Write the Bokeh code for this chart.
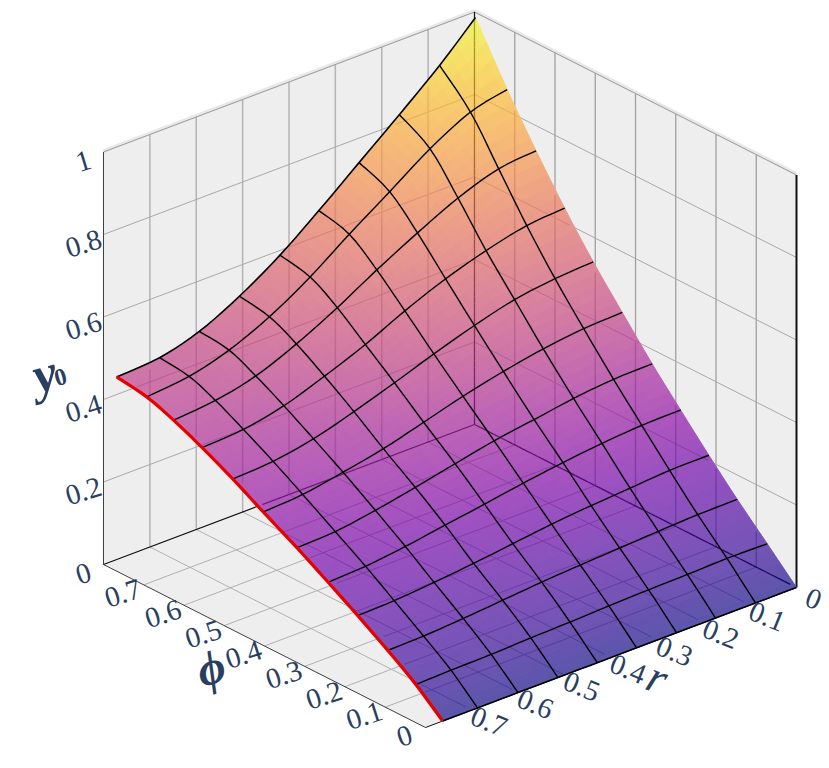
import numpy as np
from bokeh.plotting import figure
from bokeh.models import Range1d
from bokeh.core.properties import value
from bokeh.palettes import Plasma256
from bokeh.embed import file_html
from bokeh.resources import INLINE

# ---- tick labels ----
r_ticks = [0, 0.1, 0.2, 0.3, 0.4, 0.5, 0.6, 0.7]
phi_ticks = [0, 0.1, 0.2, 0.3, 0.4, 0.5, 0.6, 0.7]
y0_ticks = [0, 0.2, 0.4, 0.6, 0.8, 1]
r_tick_labels = ["0", "0.1", "0.2", "0.3", "0.4", "0.5", "0.6", "0.7"]
phi_tick_labels = ["0", "0.1", "0.2", "0.3", "0.4", "0.5", "0.6", "0.7"]
y0_tick_labels = ["0", "0.2", "0.4", "0.6", "0.8", "1"]

# ---- mesh-line positions, read at both ends of each line ----
r_at_phi_low = [0, 0.0884, 0.1746, 0.2586, 0.3448, 0.4295, 0.5144, 0.6006, 0.688, 0.763]
r_at_phi_high = [0, 0.077, 0.1632, 0.2495, 0.3357, 0.419, 0.506, 0.592, 0.677, 0.769]
phi_at_r_low = [0, 0.0728, 0.1473, 0.2178, 0.288, 0.3585, 0.433, 0.505, 0.576, 0.647, 0.719, 0.7975]
phi_at_r_high = [0, 0.066, 0.135, 0.2094, 0.282, 0.359, 0.442, 0.517, 0.5925, 0.663, 0.729, 0.803]

# ---- surface y0, one list per phi mesh line, from r = 0 to r = max ----
y0_phi00 = [0, 0, 0, 0, 0, 0, 0, 0, 0, 0]
y0_phi01 = [0.070, 0.072, 0.070, 0.069, 0.067, 0.064, 0.062, 0.059, 0.058, 0.056]
y0_phi02 = [0.141, 0.141, 0.138, 0.134, 0.130, 0.125, 0.118, 0.111, 0.106, 0.105]
y0_phi03 = [0.213, 0.213, 0.207, 0.201, 0.193, 0.182, 0.171, 0.162, 0.155, 0.153]
y0_phi04 = [0.288, 0.287, 0.280, 0.270, 0.257, 0.242, 0.228, 0.213, 0.202, 0.198]
y0_phi05 = [0.365, 0.363, 0.353, 0.338, 0.323, 0.303, 0.282, 0.263, 0.248, 0.244]
y0_phi06 = [0.453, 0.448, 0.435, 0.416, 0.392, 0.364, 0.336, 0.315, 0.297, 0.290]
y0_phi07 = [0.540, 0.533, 0.518, 0.491, 0.458, 0.423, 0.389, 0.359, 0.340, 0.333]
y0_phi08 = [0.635, 0.626, 0.601, 0.568, 0.526, 0.479, 0.438, 0.402, 0.380, 0.372]
y0_phi09 = [0.739, 0.728, 0.693, 0.644, 0.590, 0.533, 0.481, 0.439, 0.415, 0.404]
y0_phi10 = [0.852, 0.830, 0.777, 0.709, 0.642, 0.573, 0.513, 0.468, 0.440, 0.428]
y0_phi11 = [0.988, 0.904, 0.821, 0.741, 0.661, 0.588, 0.525, 0.476, 0.448, 0.440]

title_r, title_phi, title_y, title_y_sub = "r", "\u03d5", "y", "0"
R_MAX, PHI_MAX, Y0_MAX = 0.8, 0.8, 1.0

Z = np.array([y0_phi00, y0_phi01, y0_phi02, y0_phi03, y0_phi04, y0_phi05,
              y0_phi06, y0_phi07, y0_phi08, y0_phi09, y0_phi10, y0_phi11])
NJ, NI = Z.shape


def project(r, phi, z):
    """Orthographic view of the 3-D box, in page pixels."""
    r, phi, z = np.asarray(r, float), np.asarray(phi, float), np.asarray(z, float)
    return 796 - 463.75 * r - 402.5 * phi, 587 + 175 * r - 203.75 * phi - 412.5 * z


ti = np.arange(NI) / (NI - 1)
tj = np.arange(NJ) / (NJ - 1)
RL, RH, PL, PH = map(np.array, (r_at_phi_low, r_at_phi_high, phi_at_r_low, phi_at_r_high))
R = RL[None, :] + (RH - RL)[None, :] * tj[:, None]
PHI = PL[:, None] + (PH - PL)[:, None] * ti[None, :]
SX, SY = project(R, PHI, Z)

# smooth drawing of the read mesh: a spline through the mesh nodes in both directions
SUB = 5


def spline_1d(a):
    a = np.asarray(a, float)
    n = len(a)
    out = []
    for k in range(n - 1):
        p0, p1, p2, p3 = a[max(k - 1, 0)], a[k], a[k + 1], a[min(k + 2, n - 1)]
        for s in range(SUB):
            t = s / SUB
            out.append(0.5 * (2 * p1 + (p2 - p0) * t + (2 * p0 - 5 * p1 + 4 * p2 - p3) * t ** 2 +
                              (3 * p1 - p0 - 3 * p2 + p3) * t ** 3))
    out.append(a[-1])
    return np.array(out)


def spline_2d(A):
    B = np.array([spline_1d(row) for row in A])
    return np.array([spline_1d(col) for col in B.T]).T


DX, DY, DZ = spline_2d(SX), spline_2d(SY), spline_2d(Z)
DZ = np.clip(DZ, 0, None)

p = figure(width=829, height=768, x_range=Range1d(0, 829), y_range=Range1d(768, 0),
           output_backend="svg", toolbar_location=None, x_axis_type=None, y_axis_type=None,
           min_border=0, outline_line_color=None)
p.grid.visible = False
p.background_fill_color = "white"
p.border_fill_color = "white"

# ---- walls and floor ----
WALL = "#eeeeee"
walls = [([0, R_MAX, R_MAX, 0], [PHI_MAX] * 4, [Y0_MAX, Y0_MAX, 0, 0]),
         ([0] * 4, [PHI_MAX, 0, 0, PHI_MAX], [Y0_MAX, Y0_MAX, 0, 0]),
         ([R_MAX, 0, 0, R_MAX], [PHI_MAX, PHI_MAX, 0, 0], [0] * 4)]
wx, wy = zip(*[project(*w) for w in walls])
p.patches([list(a) for a in wx], [list(a) for a in wy], fill_color=WALL, line_color=WALL, line_width=1)

# halo on the top rim
hx, hy = project([R_MAX, 0, 0], [PHI_MAX, PHI_MAX, 0], [Y0_MAX] * 3)
p.line(list(hx), list(hy - 1), line_color="#e8e8e8", line_width=4)


def seg(r0, phi0, z0, r1, phi1, z1):
    a, b = project(r0, phi0, z0), project(r1, phi1, z1)
    return (float(a[0]), float(a[1]), float(b[0]), float(b[1]))


vert_left = [seg(t, PHI_MAX, 0, t, PHI_MAX, Y0_MAX) for t in r_ticks[1:]]
vert_right = [seg(0, t, 0, 0, t, Y0_MAX) for t in phi_ticks[1:]]
horiz = ([seg(R_MAX, PHI_MAX, t, 0, PHI_MAX, t) for t in y0_ticks[1:-1]] +
         [seg(0, PHI_MAX, t, 0, 0, t) for t in y0_ticks[1:-1]])
floor = ([seg(t, 0, 0, t, PHI_MAX, 0) for t in r_ticks[1:]] +
         [seg(0, t, 0, R_MAX, t, 0) for t in phi_ticks[1:]])
top_rim = [seg(R_MAX, PHI_MAX, Y0_MAX, 0, PHI_MAX, Y0_MAX), seg(0, PHI_MAX, Y0_MAX, 0, 0, Y0_MAX)]
dark = [seg(R_MAX, PHI_MAX, 0, 0, PHI_MAX, 0), seg(0, PHI_MAX, 0, 0, 0, 0),
        seg(0, PHI_MAX, 0, 0, PHI_MAX, Y0_MAX)]
thin = [seg(R_MAX, PHI_MAX, 0, R_MAX, PHI_MAX, Y0_MAX), seg(R_MAX, PHI_MAX, 0, R_MAX, 0, 0)]
right_post = [seg(0, 0, 0, 0, 0, Y0_MAX)]
front = [seg(R_MAX, 0, 0, 0, 0, 0)]


def draw(segs, **kw):
    p.multi_line([[s[0], s[2]] for s in segs], [[s[1], s[3]] for s in segs], **kw)


draw(vert_left, line_color="#b4b4b4", line_width=1.5)
draw(vert_right, line_color="#a0a0a0", line_width=1.3)
draw(horiz, line_color="#a8a8a8", line_width=1)
draw(floor, line_color="#b0b0b0", line_width=1)
draw(top_rim, line_color="#9a9a9a", line_width=1)
draw(thin, line_color="#404040", line_width=1)
draw(dark, line_color="#111111", line_width=1.2)
draw(right_post, line_color="#111111", line_width=2)
draw(front, line_color="#111111", line_width=1)

# ---- surface: opaque colours, as plasma at 66% over whatever lies behind ----
wall_rgb = np.array([238, 238, 238])
plasma = np.array([[int(c[i:i + 2], 16) for i in (1, 3, 5)] for c in Plasma256])
ZTOP = Z.max()
SURF_ALPHA = 0.66


def colour(z, behind=wall_rgb):
    base = plasma[int(np.clip(z / ZTOP, 0, 1) * 255)]
    rgb = SURF_ALPHA * base + (1 - SURF_ALPHA) * np.asarray(behind)
    return "#%02x%02x%02x" % tuple(int(round(v)) for v in rgb)


xs, ys, cols = [], [], []
for j in range(DX.shape[0] - 1):
    for i in range(DX.shape[1] - 1):
        xs.append([float(DX[j, i]), float(DX[j, i + 1]), float(DX[j + 1, i + 1]), float(DX[j + 1, i])])
        ys.append([float(DY[j, i]), float(DY[j, i + 1]), float(DY[j + 1, i + 1]), float(DY[j + 1, i])])
        cols.append(colour(float(DZ[j:j + 2, i:i + 2].mean())))
p.patches(xs, ys, fill_color=cols, line_color=cols, line_width=1)

# ---- box lines seen through the surface ----
sil_x = np.concatenate([DX[0, :], DX[:, -1], DX[-1, ::-1], DX[::-1, 0]])
sil_y = np.concatenate([DY[0, :], DY[:, -1], DY[-1, ::-1], DY[::-1, 0]])


def inside(x, y):
    res = np.zeros_like(x, dtype=bool)
    n = len(sil_x)
    for k in range(n):
        x1, y1, x2, y2 = sil_x[k], sil_y[k], sil_x[(k + 1) % n], sil_y[(k + 1) % n]
        if y1 == y2:
            continue
        with np.errstate(divide="ignore", invalid="ignore"):
            cross = ((y1 > y) != (y2 > y)) & (x < (x2 - x1) * (y - y1) / (y2 - y1) + x1)
        res ^= cross
    return res


def through(segs, rgb, width):
    """Pieces of a box line that lie behind the surface, each with the colour it shows there."""
    gx, gy, gc = [], [], []
    fx, fy, fz = DX.ravel(), DY.ravel(), DZ.ravel()
    for s in segs:
        length = np.hypot(s[2] - s[0], s[3] - s[1])
        n = max(int(length / 7), 2)
        t = np.linspace(0, 1, n + 1)
        x, y = s[0] + (s[2] - s[0]) * t, s[1] + (s[3] - s[1]) * t
        m = inside(x, y)
        for k in range(n):
            if m[k] and m[k + 1]:
                mx, my = (x[k] + x[k + 1]) / 2, (y[k] + y[k + 1]) / 2
                z = fz[np.argmin((fx - mx) ** 2 + (fy - my) ** 2)]
                gx.append([float(x[k]), float(x[k + 1])])
                gy.append([float(y[k]), float(y[k + 1])])
                gc.append(colour(float(z), rgb))
    p.multi_line(gx, gy, line_color=gc, line_width=width)


through(vert_left, (180, 180, 180), 1.5)
through(vert_right, (160, 160, 160), 1.3)
through(horiz + floor, (170, 170, 170), 1)
through(dark, (17, 17, 17), 1.3)

# ---- surface mesh lines ----
mesh_x = ([list(map(float, DX[j * SUB, :])) for j in range(1, NJ - 1)] +
          [list(map(float, DX[:, i * SUB])) for i in range(1, NI - 1)])
mesh_y = ([list(map(float, DY[j * SUB, :])) for j in range(1, NJ - 1)] +
          [list(map(float, DY[:, i * SUB])) for i in range(1, NI - 1)])
p.multi_line(mesh_x, mesh_y, line_color="#000000", line_width=1.4, line_join="round")
p.line(list(map(float, DX[-1, :])), list(map(float, DY[-1, :])), line_color="#000000", line_width=1.6, line_join="round")
p.line(list(map(float, DX[0, :])), list(map(float, DY[0, :])), line_color="#000000", line_width=1.6)
p.line(list(map(float, DX[:, -1])), list(map(float, DY[:, -1])), line_color="#e60000", line_width=3.2, line_join="round")

# ---- tick labels ----
TICK = "#2a3f5f"


def labels(xv, yv, txt, deg, size, style="normal"):
    p.text(list(map(float, xv)), list(map(float, yv)), text=txt, angle=np.deg2rad(deg), text_align="center",
           text_baseline="middle", text_color=TICK, text_font=value("Liberation Serif"),
           text_font_size=size, text_font_style=style)


ax, ay = project([R_MAX] * len(y0_ticks), [PHI_MAX] * len(y0_ticks), y0_ticks)
labels(ax - 20, ay + 9, y0_tick_labels, 17, "29px")
bx, by = project([R_MAX] * len(phi_ticks), phi_ticks, [0] * len(phi_ticks))
labels(bx - 21, by + 8.5, phi_tick_labels, 18, "29px")
cx_, cy_ = project(r_ticks, [0] * len(r_ticks), [0] * len(r_ticks))
labels(cx_ + 17, cy_ + 11.5, r_tick_labels, -22, "29px")

# ---- axis titles ----
labels([44], [373], [title_y], 15, "52px", "bold italic")
labels([60], [377], [title_y_sub], 15, "24px", "bold")
labels([210], [667], [title_phi], 18, "48px", "bold italic")
labels([657], [677], [title_r], -22, "46px", "italic")

open("out.html", "w").write(file_html(p, INLINE))
